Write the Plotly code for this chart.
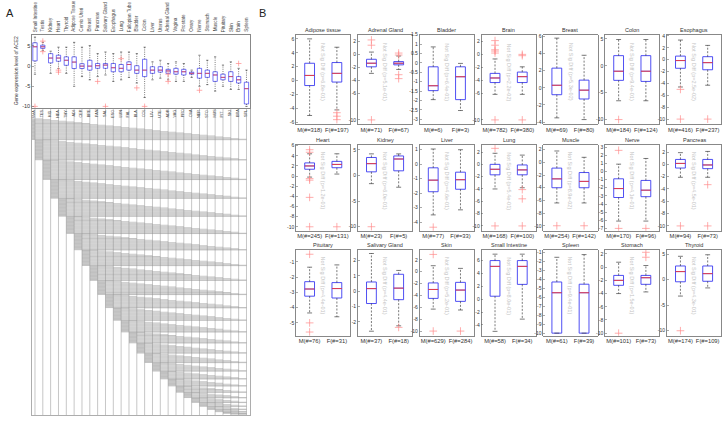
import plotly.graph_objects as go

W, H = 724, 425

# ---------------- Panel A data ----------------
a_tissues = ["Small Intestine", "Testis", "Kidney", "Heart", "Thyroid", "Adipose Tissue",
             "Cervix Uteri", "Breast", "Pancreas", "Salivary Gland", "Esophagus", "Lung",
             "Fallopian Tube", "Bladder", "Colon", "Liver", "Uterus", "Adrenal Gland",
             "Vagina", "Prostate", "Ovary", "Nerve", "Stomach", "Muscle", "Pituitary",
             "Skin", "Brain", "Spleen"]
a_abbr = ["SMA", "TES", "KID", "HEA", "THY", "ADI", "CER", "BRE", "PAN", "SAL", "ESO", "LUN",
          "FAL", "BLA", "COL", "LIV", "UTE", "ADR", "VAG", "PRO", "OVA", "NER", "STO", "MUS",
          "PIT", "SKI", "BRA", "SPL"]
a_q1 = [1.3, 4.4, 0.8, 1.2, 0.2, -0.6, -0.6, -1.0, -0.55, -0.55, -1.4, -1.4, -1.0, -1.8,
        -2.6, -1.8, -1.5, -1.8, -2.0, -2.2, -2.0, -3.0, -2.8, -3.8, -3.4, -3.8, -4.2, -9.4]
a_med = [4.8, 4.8, 2.0, 2.0, 1.45, 1.0, 0.0, 0.0, 0.1, 0.25, -0.4, -0.55, 0.4, -1.0,
         -1.0, -1.0, -1.0, -1.2, -1.4, -1.4, -1.8, -1.8, -1.8, -2.2, -2.8, -2.6, -3.4, -5.6]
a_q3 = [5.8, 5.2, 3.1, 2.7, 2.3, 2.3, 0.6, 1.45, 0.65, 0.65, 0.65, 0.4, 1.05, 0.1,
        1.7, -0.15, -0.15, -0.8, -0.55, -0.8, -1.5, -0.55, -1.0, -1.4, -2.0, -1.4, -2.6, -4.0]
a_lo = [-2.0, 3.9, -1.8, -0.6, -1.8, -5.0, -2.6, -3.4, -2.6, -2.2, -3.8, -3.4, -2.8, -4.2,
        -7.8, -3.4, -3.0, -3.4, -3.8, -3.8, -2.8, -5.0, -4.6, -6.2, -5.0, -5.8, -5.8, -10.0]
a_hi = [7.2, 5.9, 3.7, 4.7, 4.7, 5.9, 4.7, 5.1, 3.1, 3.5, 3.1, 3.5, 3.5, 3.1,
        4.7, 1.05, 1.45, 0.65, 1.05, 0.65, -1.0, 2.7, 1.45, 2.3, 0.25, 1.05, -0.55, -1.0]
a_out_idx = [1, 1, 3, 3, 8, 11, 13, 17, 17, 21, 26, 14, 0, 9]
a_out_val = [6.2, 3.6, -1.0, -1.5, -3.8, 1.85, -5.4, -2.0, -3.8, -6.0, 0.65, -10, -10, -10]
a_yticks = [5, 0, -5, -10]

# ---------------- Panel B data ----------------
b_tissues = ["Adipose tissue", "Adrenal Gland", "Bladder", "Brain", "Breast", "Colon", "Esophagus",
             "Heart", "Kidney", "Liver", "Lung", "Muscle", "Nerve", "Pancreas",
             "Pituitary", "Salivary Gland", "Skin", "Small Intestine", "Spleen", "Stomach", "Thyroid"]
b_m_n = [318, 71, 6, 782, 69, 184, 416, 245, 23, 77, 168, 254, 170, 94, 76, 37, 629, 58, 61, 101, 174]
b_f_n = [197, 67, 3, 380, 80, 124, 237, 131, 5, 33, 100, 142, 96, 73, 31, 18, 284, 34, 39, 73, 109]
b_m_q1 = [-0.7, -1.9, -1.48, -4.3, -0.8, -2.7, -1.45, 1.35, 0.7, -1.9, -1.7, -4.0, -3.2, -0.6,
          -3.25, -0.8, -4.5, 0.46, -10.0, -2.75, -0.4]
b_m_med = [0.75, -1.35, -1.22, -3.6, 0.3, -1.0, -0.15, 2.0, 2.3, -1.1, -0.8, -2.6, -2.1, 0.15,
           -2.78, 0.17, -3.0, 5.1, -5.5, -2.0, 1.6]
b_m_q3 = [2.5, -0.75, -0.21, -2.9, 2.3, 1.9, 0.6, 2.6, 3.5, -0.25, 0.0, -0.9, -0.9, 0.8,
          -2.3, 0.6, -1.9, 6.0, -4.3, -1.25, 2.7]
b_m_lo = [-5.0, -2.9, -1.96, -6.1, -3.5, -6.5, -4.6, -0.2, -1.6, -3.5, -4.0, -6.4, -6.1, -2.1,
          -4.35, -2.6, -6.3, -5.0, -10.0, -4.0, -3.2]
b_m_hi = [6.0, 0.35, 0.85, -0.7, 5.8, 4.9, 3.3, 4.4, 4.2, 1.05, 1.8, 1.8, 0.9, 1.9,
          -1.35, 2.45, 1.0, 7.0, -1.55, 0.75, 4.6]
b_m_out = [[], [1.4, 2.2, -10], [], [2.1, 1.4, 0.7, 0.5, 0.2, -10], [], [-10], [-5.0, -10],
           [5.2, 4.7, -0.5, -0.8, -4.2, -10], [-10], [-4.35], [2.6, -10], [-10], [2.6, -7.0], [-10],
           [-0.5, -5.0, -5.6], [], [2.9, -10], [], [], [-10], [-10]]
b_f_q1 = [-0.2, -1.6, -1.96, -4.3, -1.3, -2.9, -1.7, 1.65, 0.9, -1.73, -1.7, -4.0, -3.1, -0.7,
          -3.37, -0.55, -5.0, 2.3, -10.0, -2.6, -0.3]
b_f_med = [1.05, -1.35, -0.74, -3.4, -0.27, -1.0, -0.5, 2.3, 3.2, -1.07, -0.9, -3.0, -2.3, -0.1,
           -2.75, 0.2, -3.1, 5.1, -5.5, -1.6, 1.2]
b_f_q3 = [2.6, -1.1, -0.21, -2.7, 0.9, 1.9, 0.5, 2.9, 3.8, -0.55, -0.1, -1.6, -1.1, 0.8,
          -2.36, 1.1, -1.8, 6.0, -4.55, -1.25, 2.7]
b_f_lo = [-4.2, -2.3, -2.54, -6.1, -3.7, -6.5, -4.3, 0.4, -2.3, -3.15, -3.8, -6.4, -6.1, -2.1,
          -4.6, -2.25, -6.45, -3.1, -10.0, -3.75, -1.6]
b_f_hi = [4.8, -0.25, -0.03, -1.9, 3.8, 4.9, 2.4, 4.4, 4.2, 1.0, 1.5, 0.8, 1.6, 2.1,
          -1.2, 1.35, 0.55, 7.0, -1.25, 0.25, 4.9]
b_f_out = [[-4.6, -5.1, -5.6], [0.2, -0.1, -3.1, -3.7], [], [0.0, -0.2, -10], [], [], [-10],
           [-10], [], [], [-4.1, -5.6, -10], [-10], [-7.0], [-3.3, -10],
           [], [-2.35], [-10], [], [], [2.25, 1.5], []]
b_pval = ["6.8e-01", "5.1e-01", "6.4e-01", "2.2e-02", "5.3e-02", "9.4e-01", "2.5e-02",
          "1.2e-01", "6.0e-01", "4.6e-01", "5.4e-01", "8.9e-02", "4.1e-01", "4.5e-01",
          "4.4e-01", "4.4e-01", "5.2e-01", "8.0e-01", "9.4e-01", "1.5e-01", "4.3e-01"]
b_yticks = [[-6, -4, -2, 0, 2, 4, 6], [2, 0, -2, -4, -6, -10],
            [1.5, 1, 0.5, 0, -0.5, -1, -1.5, -2, -2.5, -3], [2, 0, -2, -4, -6, -10],
            [-4, -2, 0, 2, 4, 6], [5, 0, -5, -10], [4, 2, 0, -2, -4, -6, -8, -10],
            [6, 4, 2, 0, -2, -4, -6, -8, -10], [5, 0, -5, -10], [1, 0, -1, -2, -3, -4],
            [2, 0, -2, -4, -6, -8, -10], [2, 0, -2, -4, -6, -8, -10],
            [3, 2, 1, 0, -1, -2, -3, -4, -5, -6, -7], [2, 0, -2, -4, -6, -8, -10],
            [-1, -2, -3, -4, -5], [2, 1, 0, -1, -2], [2, 0, -2, -4, -6, -8, -10],
            [6, 4, 2, 0, -2, -4], [-1, -2, -3, -4, -5, -6, -7, -8, -9, -10],
            [2, 0, -2, -4, -6, -8, -10], [5, 0, -5, -10]]
b_yrange = [[-6.2, 6.6], [-10.6, 3.0], [-3.25, 1.5], [-10.6, 3.0], [-4.2, 6.2], [-10.8, 5.8],
            [-10.8, 4.2], [-10.8, 6.2], [-10.8, 6.0], [-4.6, 1.35], [-10.8, 3.2], [-10.8, 2.8],
            [-7.3, 3.3], [-10.8, 3.2], [-5.85, -0.2], [-2.9, 2.7], [-10.8, 3.7], [-5.7, 7.7],
            [-10.3, -0.7], [-10.4, 2.65], [-11.0, 5.9]]

# ---------------- styling ----------------
BLUE = '#3b3bf2'
RED = '#f23a3a'
OUTC = '#ff8a8a'
FRAME = '#555555'
FONT = 'Liberation Sans, Arial, sans-serif'


def fx(px):
    return px / W


def fy(py):
    return 1 - py / H


def ax_names(n):
    s = '' if n == 1 else str(n)
    return 'x' + s, 'y' + s, 'xaxis' + s, 'yaxis' + s


fig = go.Figure()
annotations = []
layout = dict(width=W, height=H, margin=dict(l=0, r=0, t=0, b=0), paper_bgcolor='white',
              plot_bgcolor='white', showlegend=False,
              font=dict(family=FONT, size=5, color='#333333'))


def add_boxes(xa, ya, xs, q1, med, q3, lo, hi, ox, oy, w, dash, lw, msize):
    wx, wy, cx, cy, mx, my = [], [], [], [], [], []
    for p, a, m, b, l, h in zip(xs, q1, med, q3, lo, hi):
        wx += [p, p, None, p, p, None]
        wy += [b, h, None, a, l, None]
        cx += [p - w / 4, p + w / 4, None, p - w / 4, p + w / 4, None]
        cy += [h, h, None, l, l, None]
        mx += [p - w / 2, p + w / 2, None]
        my += [m, m, None]
    fig.add_trace(go.Scatter(x=wx, y=wy, mode='lines', xaxis=xa, yaxis=ya, hoverinfo='skip',
                             line=dict(color='#222222', width=0.6, dash=dash)))
    fig.add_trace(go.Scatter(x=cx, y=cy, mode='lines', xaxis=xa, yaxis=ya, hoverinfo='skip',
                             line=dict(color='#222222', width=0.6)))
    fig.add_trace(go.Box(x=xs, q1=q1, median=med, q3=q3, lowerfence=q1, upperfence=q3,
                         width=w, whiskerwidth=0, boxpoints=False, xaxis=xa, yaxis=ya,
                         fillcolor='rgba(255,255,255,0)', hoverinfo='skip',
                         line=dict(color=BLUE, width=lw)))
    fig.add_trace(go.Scatter(x=mx, y=my, mode='lines', xaxis=xa, yaxis=ya, hoverinfo='skip',
                             line=dict(color=RED, width=lw)))
    if ox:
        fig.add_trace(go.Scatter(x=ox, y=oy, mode='markers', xaxis=xa, yaxis=ya, hoverinfo='skip',
                                 marker=dict(symbol='cross-thin', size=msize, color=OUTC,
                                             line=dict(color=OUTC, width=0.7))))


def tick_text(vals):
    return [f"{v:g}" for v in vals]


# ---------------- Panel B ----------------
col_left0, col_step, col_w = 296, 61.8, 54.5
row_top = [32, 143, 249]
row_bot = [122, 230, 336]
for k, name in enumerate(b_tissues):
    r, c = divmod(k, 7)
    xa, ya, xk, yk = ax_names(k + 1)
    left = col_left0 + col_step * c
    layout[xk] = dict(domain=[fx(left), fx(left + col_w)], range=[0.5, 2.5],
                      anchor=ya, tickvals=[1, 2],
                      ticktext=[f"M(#={b_m_n[k]})", f"F(#={b_f_n[k]})"],
                      showline=True, mirror=True, linecolor=FRAME, linewidth=0.7,
                      ticks='', showgrid=False, zeroline=False,
                      tickfont=dict(size=5.8, color='#333333'))
    layout[yk] = dict(domain=[fy(row_bot[r]), fy(row_top[r])], range=b_yrange[k],
                      anchor=xa, tickvals=b_yticks[k], ticktext=tick_text(b_yticks[k]),
                      showline=True, mirror=True, linecolor=FRAME, linewidth=0.7,
                      ticks='inside', ticklen=2, tickwidth=0.5, tickcolor=FRAME,
                      showgrid=False, zeroline=False,
                      tickfont=dict(size=5, color='#333333'))
    mo, fo = b_m_out[k], b_f_out[k]
    add_boxes(xa, ya, [1, 2], [b_m_q1[k], b_f_q1[k]], [b_m_med[k], b_f_med[k]],
              [b_m_q3[k], b_f_q3[k]], [b_m_lo[k], b_f_lo[k]], [b_m_hi[k], b_f_hi[k]],
              [1] * len(mo) + [2] * len(fo), mo + fo, 0.36, '2px,1.5px', 0.9, 5.5)
    annotations.append(dict(text=name, xref=f'{xa} domain', yref=f'{ya} domain', x=0.5, y=1.0,
                            xanchor='center', yanchor='bottom', showarrow=False, yshift=0,
                            font=dict(size=5.5, color='#333333')))
    annotations.append(dict(text=f"Not Sig Diff (p={b_pval[k]})", xref=xa, yref=f'{ya} domain',
                            x=1.5, y=0.58, textangle=90, showarrow=False,
                            font=dict(size=5.5, color='#c4c4c4')))

# ---------------- Panel A: box plot ----------------
nA = len(a_tissues)
ax_lo, ax_hi = -0.38, nA - 1 + 0.45
xa, ya = 'x22', 'y22'
layout['xaxis22'] = dict(domain=[fx(32), fx(250)], range=[ax_lo, ax_hi], anchor=ya,
                         showline=True, mirror=True, linecolor=FRAME, linewidth=0.7,
                         showticklabels=False, ticks='', showgrid=False, zeroline=False)
layout['yaxis22'] = dict(domain=[fy(106), fy(32)], range=[-10.4, 7.8], anchor=xa,
                         tickvals=a_yticks, ticktext=tick_text(a_yticks),
                         showline=True, mirror=True, linecolor=FRAME, linewidth=0.7,
                         ticks='inside', ticklen=2, tickwidth=0.5, tickcolor=FRAME,
                         showgrid=False, zeroline=False, tickfont=dict(size=5.5, color='#333333'))
xs = list(range(nA))
add_boxes(xa, ya, xs, a_q1, a_med, a_q3, a_lo, a_hi, a_out_idx, a_out_val, 0.55,
          '1px,1.2px', 0.7, 4)
for i, t in enumerate(a_tissues):
    annotations.append(dict(text=t, xref=xa, yref=f'{ya} domain', x=i, y=1.0, yshift=1,
                            textangle=-90, xanchor='center', yanchor='bottom', showarrow=False,
                            font=dict(size=4.6, color='#444444')))
annotations.append(dict(text="Gene expression level of ACE2", xref='paper', yref=f'{ya} domain',
                        x=fx(11), y=0.5, textangle=-90, showarrow=False,
                        font=dict(size=5, color='#333333')))

# ---------------- Panel A: pairwise comparison matrix ----------------
ngroups = nA - 1
rows_total = ngroups * (ngroups + 1) // 2
top_pad = 14
layout['xaxis23'] = dict(domain=[fx(32), fx(250)], range=[ax_lo, ax_hi], anchor='y23',
                         showline=True, linecolor='#8a8a8a', linewidth=0.7, showticklabels=False,
                         ticks='', showgrid=False, zeroline=False)
layout['yaxis23'] = dict(domain=[fy(416), fy(106)], range=[rows_total + 0.5, -top_pad],
                         anchor='x23', showline=True, mirror=True, linecolor='#8a8a8a',
                         linewidth=0.7, showticklabels=False, ticks='', showgrid=False,
                         zeroline=False)

bar_y, bar_x, bar_base = [], [], []
lab_y, lab_x, lab_base = [], [], []
gx, gy = [], []
row = 0
for g in range(ngroups):
    for k in range(ngroups - g):
        bar_y.append(row)
        bar_base.append(g)
        bar_x.append(k + 1)
        lb = max(g - 1, ax_lo)
        lab_y.append(row)
        lab_base.append(lb)
        lab_x.append(g - lb)
        row += 1
    gx += [g, nA - 1, None]
    gy += [row - 0.5, row - 0.5, None]

fig.add_trace(go.Bar(y=bar_y, x=bar_x, base=bar_base, orientation='h', width=1.0,
                     xaxis='x23', yaxis='y23', hoverinfo='skip',
                     marker=dict(color='#c6c6c6', line=dict(width=0))))
fig.add_trace(go.Bar(y=lab_y, x=lab_x, base=lab_base, orientation='h', width=1.0,
                     xaxis='x23', yaxis='y23', hoverinfo='skip',
                     marker=dict(color='#b4b4b4', line=dict(width=0))))
fig.add_trace(go.Scatter(x=gx, y=gy, mode='lines', xaxis='x23', yaxis='y23', hoverinfo='skip',
                         line=dict(color='#9a9a9a', width=0.5)))
vx, vy = [], []
for i in range(nA):
    vx += [i, i, None]
    vy += [-top_pad, rows_total + 0.5, None]
fig.add_trace(go.Scatter(x=vx, y=vy, mode='lines', xaxis='x23', yaxis='y23', hoverinfo='skip',
                         line=dict(color='#8c8c8c', width=0.5)))
for i, ab in enumerate(a_abbr):
    annotations.append(dict(text=ab, xref='x23', yref='y23', x=i, y=-top_pad / 2,
                            textangle=-90, showarrow=False, font=dict(size=3.8, color='#444444')))

# ---------------- panel letters ----------------
annotations.append(dict(text="A", xref='paper', yref='paper', x=fx(4), y=fy(2), xanchor='left',
                        yanchor='top', showarrow=False, font=dict(size=11, color='#222222')))
annotations.append(dict(text="B", xref='paper', yref='paper', x=fx(257), y=fy(2), xanchor='left',
                        yanchor='top', showarrow=False, font=dict(size=11, color='#222222')))

layout['annotations'] = annotations
fig.update_layout(**layout)
fig.write_html("out.html", config={'displayModeBar': False, 'staticPlot': True},
               post_script="document.body.style.margin='0px';")
